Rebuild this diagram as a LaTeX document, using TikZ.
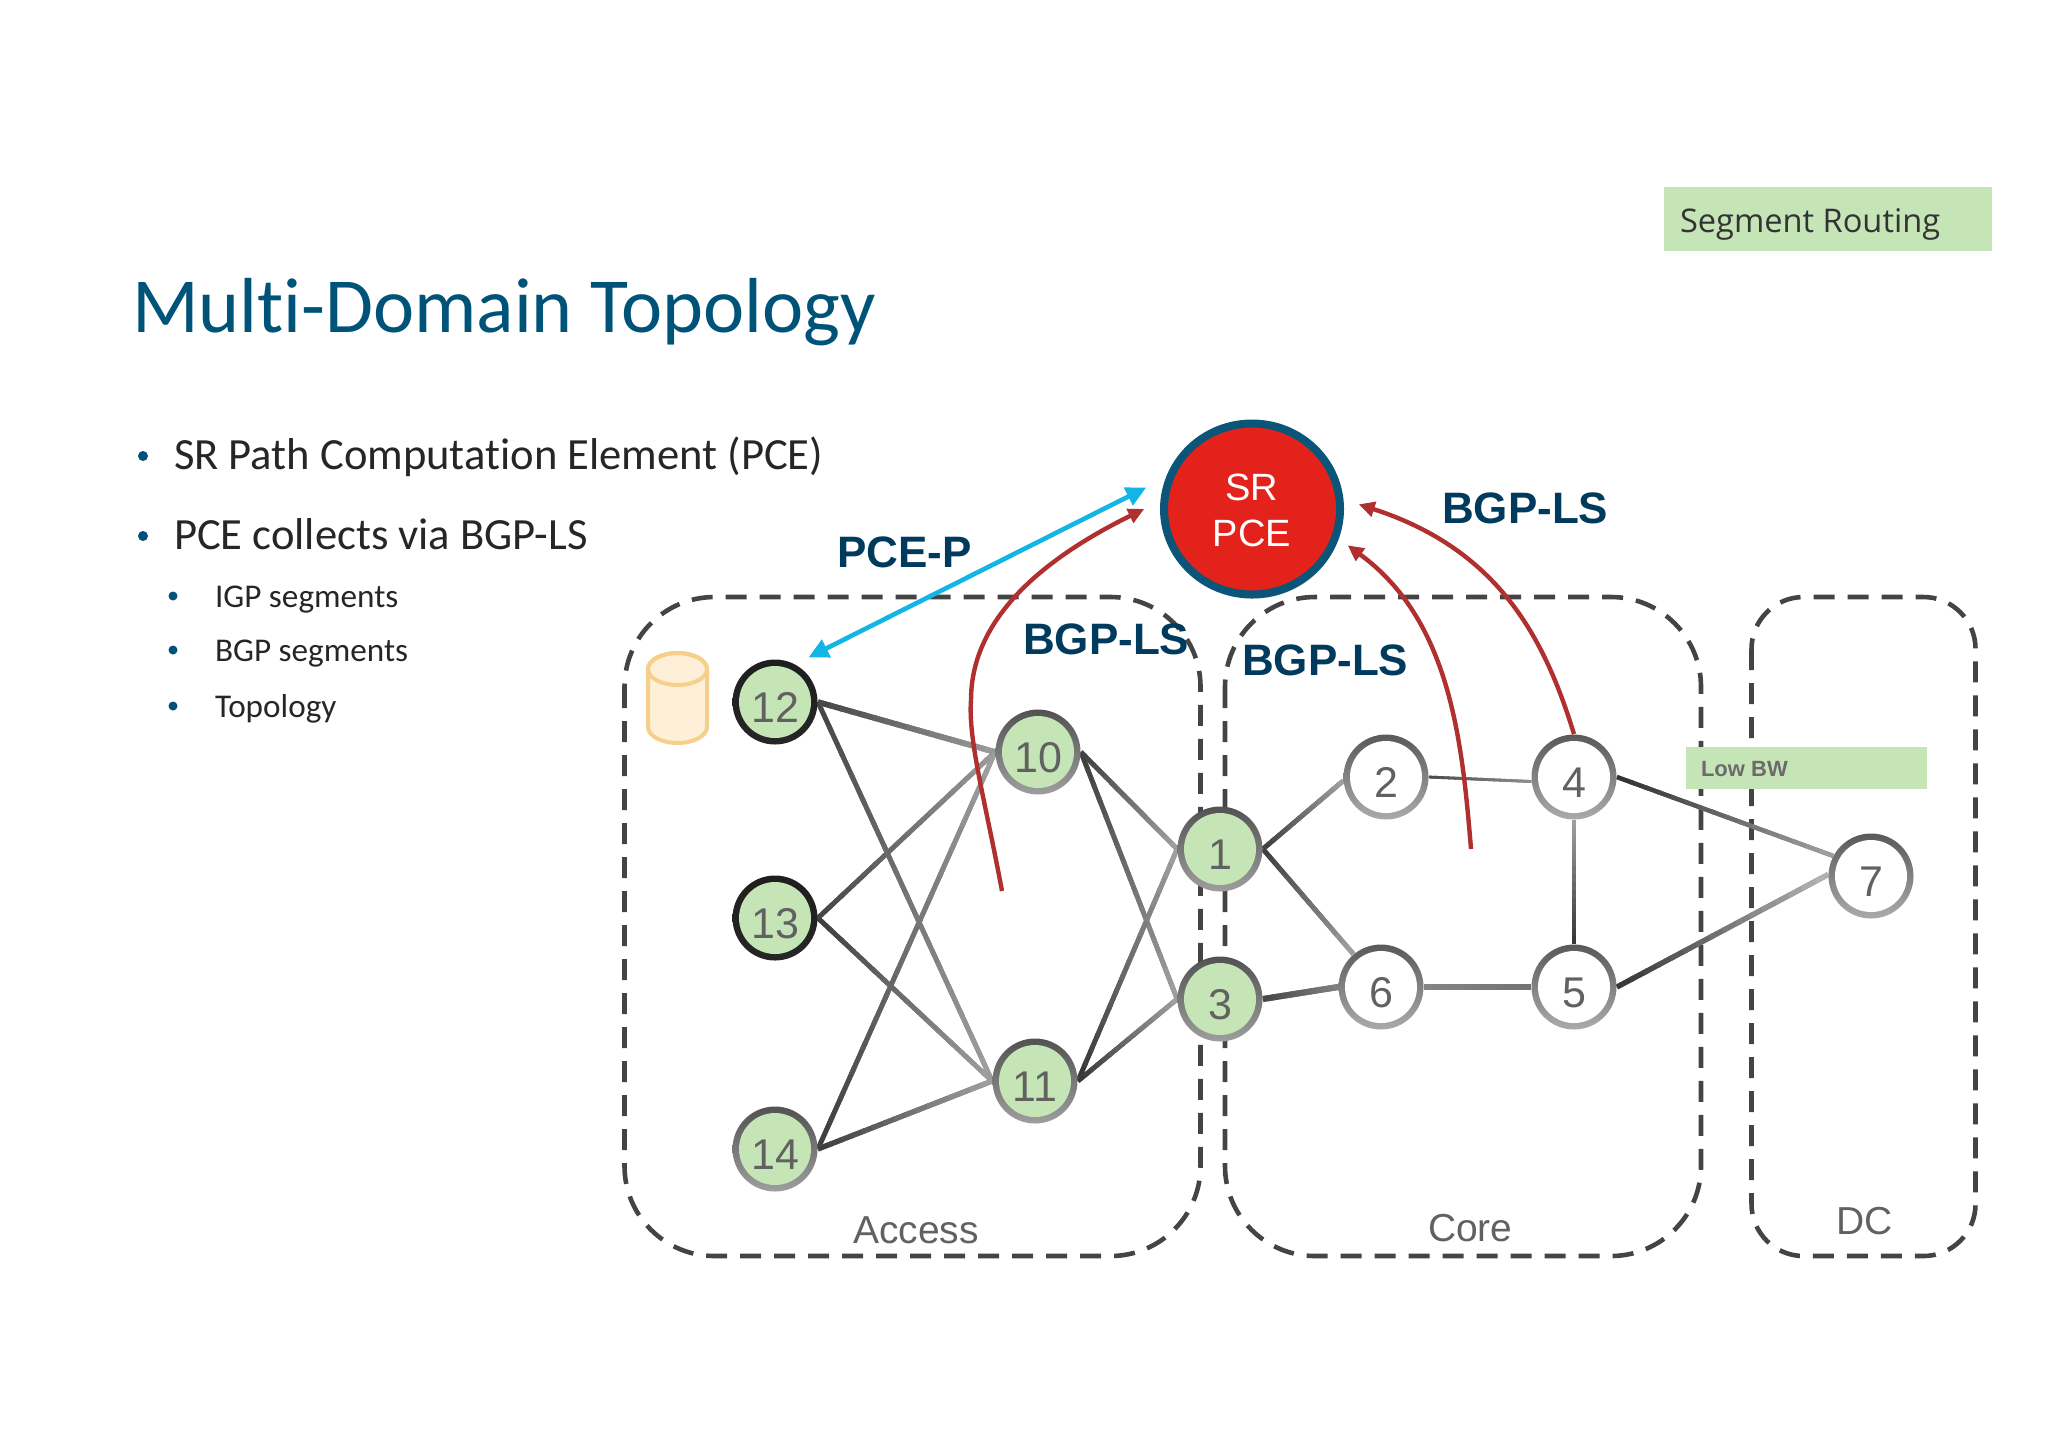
\documentclass[tikz,border=0pt]{standalone}
\usepackage{fontspec}
\setmainfont{Carlito}[Ligatures=NoCommon]
\newfontfamily\arial{Liberation Sans}
\newfontfamily\seg{Open Sans}
\usetikzlibrary{calc,arrows.meta,shadows,shapes.geometric}
\pgfdeclarelayer{bg}
\pgfsetlayers{bg,main}
\definecolor{titleblue}{HTML}{005378}
\definecolor{labelblue}{HTML}{003A5C}
\definecolor{bodyink}{HTML}{262626}
\definecolor{leaf}{HTML}{C5E5B7}
\definecolor{boxdash}{HTML}{444444}
\definecolor{pcered}{HTML}{E3231B}
\definecolor{pcering}{HTML}{0B5578}
\definecolor{cyanarrow}{HTML}{13B5E5}
\definecolor{redarrow}{HTML}{B03030}
\definecolor{dbstroke}{HTML}{F6D08A}
\definecolor{dbfill}{HTML}{FDEFD8}
\tikzset{
  txt/.style={anchor=base west,inner sep=0pt,outer sep=0pt},
  headline/.style={txt,font=\fontsize{39}{44}\selectfont,text=titleblue},
  lvl1/.style={txt,font=\fontsize{22.3}{26}\selectfont,text=bodyink},
  lvl2/.style={txt,font=\fontsize{16.6}{20}\selectfont,text=bodyink},
  bul/.style={circle,fill=titleblue,inner sep=0pt,minimum size=#1},
  proto/.style={txt,font=\arial\bfseries\fontsize{22}{26}\selectfont,text=labelblue},
  domlabel/.style={txt,font=\arial\fontsize{19.5}{22}\selectfont,text=black!62},
  zone/.style={draw=boxdash,line width=2.3pt,dash pattern=on 10.5pt off 6.5pt},
  greentag/.style={fill=leaf,inner sep=0pt},
  router/.style n args={3}{circle,inner sep=0pt,minimum size=42.5pt,
    top color=#1,bottom color=#2,text=black!62,
    font=\arial\fontsize{21.5}{24}\selectfont,
    path picture={\fill[#3] (path picture bounding box.center) circle (18pt);}},
  grn/.style={router={black!68}{black!38}{leaf}},
  blk/.style={router={black!88}{black!85}{leaf}},
  wht/.style={router={black!65}{black!33}{white}},
  cyanlink/.style={draw=cyanarrow,line width=2.3pt,{Triangle[length=10pt,width=9.5pt]}-{Triangle[length=10pt,width=9.5pt]}},
  redlink/.style={draw=redarrow,line width=2.2pt,-{Triangle[length=8pt,width=7.5pt]}},
}
\newcommand{\dg}[1]{\raisebox{-10pt}[0pt][0pt]{#1}}
% connector with a gradient along it: dark at #3 percent black, light at #4
\newcommand{\gedge}[5]{%
  \draw[line width=#5,color=black!50] (#1) -- (#2);
  \foreach \i in {0,...,15}{%
    \pgfmathsetmacro\ta{\i/16}%
    \pgfmathsetmacro\tb{min(1,(\i+1.3)/16)}%
    \pgfmathsetmacro\mx{#3+(#4-#3)*\i/15}%
    \draw[line width=#5,color=black!\mx] ($(#1)!\ta!(#2)$) -- ($(#1)!\tb!(#2)$);
  }%
}
\begin{document}
\begin{tikzpicture}[x=0.5pt,y=-0.5pt]
\useasboundingbox (0,0) rectangle (2048,1448);

% texts
\node[headline] (ttl) at (132,332) {Multi-Domain Topology};
\node[bul=5pt] (b1) at (143,456) {};
\node[lvl1] (t1) at (174,469) {SR Path Computation Element (PCE)};
\node[bul=5pt] (b2) at (143,536) {};
\node[lvl1] (t2) at (174,549) {PCE collects via BGP-LS};
\node[bul=4.5pt] (b3) at (173,596) {};
\node[lvl2] (t3) at (215,607) {IGP segments};
\node[bul=4.5pt] (b4) at (173,650) {};
\node[lvl2] (t4) at (215,661) {BGP segments};
\node[bul=4.5pt] (b5) at (173,706) {};
\node[lvl2] (t5) at (215,717) {Topology};

% Segment Routing tag
\node[greentag,minimum width=164pt,minimum height=32pt,anchor=north west] (srtag) at (1664,187) {};
\node[txt,font=\seg\fontsize{16.3}{18}\selectfont,text=black!80] (srtxt) at (1680,232) {Segment Routing};

% routers
\node[blk] (n12) at (775,702) {\dg{12}};
\node[blk] (n13) at (775,918) {\dg{13}};
\node[grn] (n14) at (775,1149) {\dg{14}};
\node[grn] (n10) at (1038,752) {\dg{10}};
\node[grn] (n11) at (1035,1081) {\dg{11}};
\node[grn] (n1) at (1220,849) {\dg{1}};
\node[grn] (n3) at (1220,999) {\dg{3}};
\node[wht] (n2) at (1386,777) {\dg{2}};
\node[wht] (n4) at (1574,777) {\dg{4}};
\node[wht] (n6) at (1381,987) {\dg{6}};
\node[wht] (n5) at (1574,987) {\dg{5}};
\node[wht] (n7) at (1871,876) {\dg{7}};

\begin{pgfonlayer}{bg}
  \draw[zone,rounded corners=45pt] (624.5,597) rectangle (1200.5,1256);
  \draw[zone,rounded corners=45pt] (1225,597) rectangle (1701,1256);
  \draw[zone,rounded corners=26pt] (1751.5,597) rectangle (1975.5,1256);
  \node[greentag,minimum width=120.5pt,minimum height=21pt,anchor=north west] (lowbw) at (1686,747) {};
  \gedge{n12.east}{n10.west}{72}{40}{2.8pt}
  \gedge{n12.east}{n11.west}{72}{38}{2.4pt}
  \gedge{n13.east}{n10.west}{72}{40}{2.4pt}
  \gedge{n13.east}{n11.west}{75}{38}{2.4pt}
  \gedge{n14.east}{n10.west}{75}{38}{2.4pt}
  \gedge{n14.east}{n11.west}{75}{38}{2.6pt}
  \gedge{n10.east}{n1.west}{75}{38}{2.4pt}
  \gedge{n10.east}{n3.west}{75}{38}{2.4pt}
  \gedge{n11.east}{n1.west}{78}{38}{2.4pt}
  \gedge{n11.east}{n3.west}{78}{38}{2.4pt}
  \gedge{n1.east}{n2.185}{75}{38}{2.4pt}
  \gedge{n1.east}{n6.130}{75}{38}{2.4pt}
  \gedge{n3.east}{n6.west}{72}{50}{3pt}
  \gedge{n6.east}{n5.west}{48}{55}{3.2pt}
  \gedge{n2.east}{n4.186}{70}{45}{1.4pt}
  \gedge{n5.north}{n4.south}{78}{38}{2.4pt}
  \gedge{n4.east}{n7.152}{80}{38}{2.2pt}
  \gedge{n5.east}{n7.178}{78}{30}{2.6pt}
\end{pgfonlayer}

\node[txt,font=\arial\bfseries\fontsize{11}{13}\selectfont,text=black!58] (lbtxt) at (1701,776) {Low BW};

% database
\path[draw=dbstroke,line width=2pt,fill=dbfill]
  (648,669) -- (648,727) arc[start angle=180,end angle=360,x radius=29.5,y radius=-16] -- (707,669)
  arc[start angle=0,end angle=180,x radius=29.5,y radius=-16] -- cycle;
\draw[dbstroke,line width=2pt] (677.5,669) ellipse[x radius=29.5,y radius=-16];

% SR PCE
\node[ellipse,draw=pcering,fill=pcered,line width=4pt,minimum width=88pt,minimum height=85.5pt,inner sep=0pt,
      drop shadow={opacity=.35,shadow xshift=1pt,shadow yshift=-2pt}] (pce) at (1252,509) {};
\node[text=white,align=center,inner sep=0pt,font=\arial\fontsize{19}{23}\selectfont] (pcetxt) at (1252,510)
      {SR\\[0pt]PCE};

% domain labels
\node[domlabel] (acc) at (853,1243) {Access};
\node[domlabel] (cor) at (1428,1241) {Core};
\node[domlabel] (dcl) at (1836,1234) {DC};

% connectors to the PCE
\coordinate (redA) at (1002,891);
\coordinate (redB) at (971,700);
\coordinate (redC) at (1471,849);
\draw[cyanlink,shorten <=7.5pt,shorten >=11pt] (n12.62) -- (pce.160);
\draw[redlink,shorten >=9pt] (redA) .. controls (985,800) and (968,740) .. (redB)
   .. controls (971,640) and (1010,575) .. (pce.175);
\draw[redlink,shorten >=5.5pt] (redC) .. controls (1462,740) and (1450,620) .. (pce.-19);
\draw[redlink,shorten >=8pt] (n4.north) .. controls (1545,640) and (1500,550) .. (pce.6);

% protocol labels
\node[proto] (pp) at (837,567) {PCE-P};
\node[proto] (ls1) at (1023,654) {BGP-LS};
\node[proto] (ls2) at (1242,675) {BGP-LS};
\node[proto] (ls3) at (1442,523) {BGP-LS};
\end{tikzpicture}
\end{document}
